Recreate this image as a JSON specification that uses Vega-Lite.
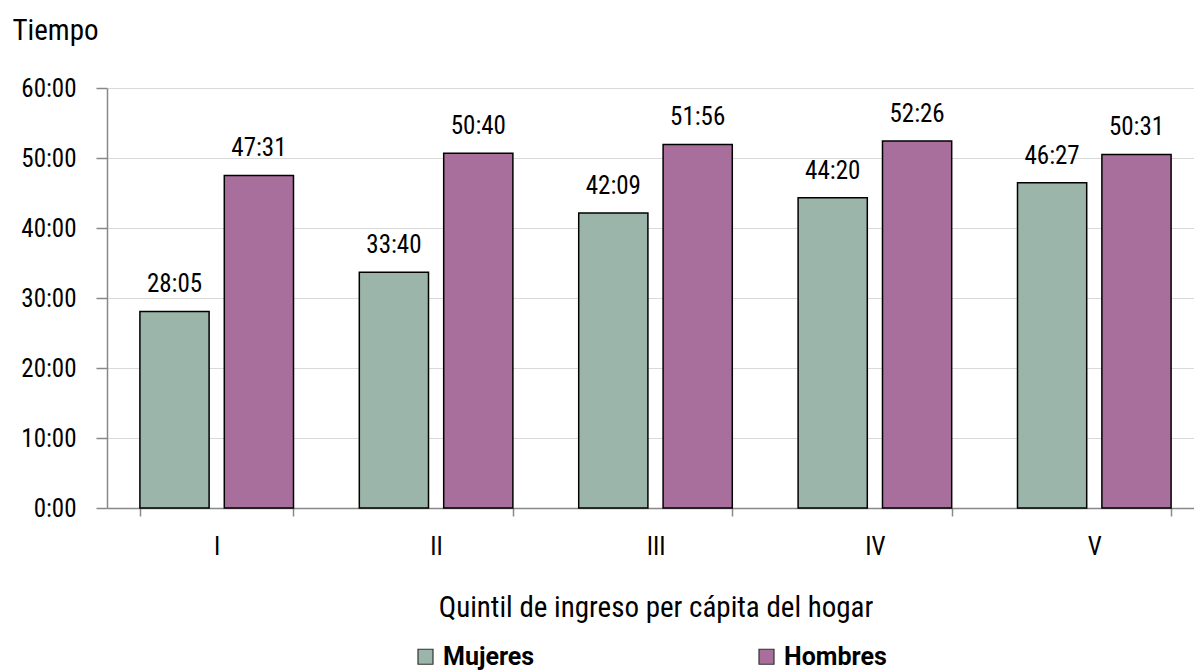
{
  "$schema": "https://vega.github.io/schema/vega-lite/v6.json",
  "width": 1097,
  "height": 420,
  "autosize": {"type": "none"},
  "padding": {"left": 107, "top": 88, "right": -10, "bottom": 163},
  "config": {
    "font": "Roboto Condensed",
    "view": {"stroke": null},
    "text": {"font": "Roboto Condensed"}
  },
  "data": {
    "values": [
      {"quintil": "I", "sexo": "Mujeres", "valor": 28.083, "etiqueta": "28:05"},
      {"quintil": "I", "sexo": "Hombres", "valor": 47.517, "etiqueta": "47:31"},
      {"quintil": "II", "sexo": "Mujeres", "valor": 33.667, "etiqueta": "33:40"},
      {"quintil": "II", "sexo": "Hombres", "valor": 50.667, "etiqueta": "50:40"},
      {"quintil": "III", "sexo": "Mujeres", "valor": 42.15, "etiqueta": "42:09"},
      {"quintil": "III", "sexo": "Hombres", "valor": 51.933, "etiqueta": "51:56"},
      {"quintil": "IV", "sexo": "Mujeres", "valor": 44.333, "etiqueta": "44:20"},
      {"quintil": "IV", "sexo": "Hombres", "valor": 52.433, "etiqueta": "52:26"},
      {"quintil": "V", "sexo": "Mujeres", "valor": 46.45, "etiqueta": "46:27"},
      {"quintil": "V", "sexo": "Hombres", "valor": 50.517, "etiqueta": "50:31"}
    ]
  },
  "encoding": {
    "x": {
      "field": "quintil",
      "type": "nominal",
      "sort": ["I", "II", "III", "IV", "V"],
      "scale": {"paddingInner": 0.3, "paddingOuter": 0.15},
      "axis": {
        "title": "Quintil de ingreso per cápita del hogar",
        "titleFontSize": 29,
        "titleFontWeight": "normal",
        "titleColor": "#000",
        "titlePadding": 34,
        "labelAngle": 0,
        "labelFontSize": 25,
        "labelColor": "#000",
        "labelPadding": 18,
        "tickBand": "extent",
        "tickSize": 8,
        "tickColor": "#888",
        "domainColor": "#888",
        "domainWidth": 1.5,
        "tickWidth": 1.5,
        "grid": false
      }
    },
    "xOffset": {
      "field": "sexo",
      "sort": ["Mujeres", "Hombres"],
      "scale": {"paddingInner": 0.18}
    },
    "y": {
      "field": "valor",
      "type": "quantitative",
      "scale": {"domain": [0, 60], "nice": false},
      "axis": {
        "values": [0, 10, 20, 30, 40, 50, 60],
        "labelExpr": "datum.value + ':00'",
        "labelFontSize": 25,
        "labelColor": "#000",
        "labelPadding": 20,
        "tickSize": 11,
        "tickColor": "#888",
        "domainColor": "#888",
        "domainWidth": 1.5,
        "tickWidth": 1.5,
        "gridColor": "#d9d9d9",
        "gridWidth": 1,
        "title": "Tiempo",
        "titleAngle": 0,
        "titleAlign": "left",
        "titleBaseline": "middle",
        "titleX": -95,
        "titleY": -58,
        "titleFontSize": 29,
        "titleFontWeight": "normal",
        "titleColor": "#000"
      }
    }
  },
  "layer": [
    {
      "mark": {"type": "bar", "stroke": "#000", "strokeWidth": 1.5},
      "encoding": {
        "color": {
          "field": "sexo",
          "type": "nominal",
          "sort": ["Mujeres", "Hombres"],
          "scale": {"domain": ["Mujeres", "Hombres"], "range": ["#9bb5aa", "#a96f9c"]},
          "legend": {
            "title": null,
            "orient": "none",
            "legendX": 306,
            "legendY": 556,
            "direction": "horizontal",
            "columns": 2,
            "columnPadding": 219,
            "symbolType": "square",
            "symbolSize": 225,
            "symbolStrokeColor": "#333",
            "symbolStrokeWidth": 1.2,
            "labelFont": "Roboto",
            "labelFontSize": 25,
            "labelFontWeight": "bold",
            "labelColor": "#000",
            "labelOffset": 5
          }
        }
      }
    },
    {
      "mark": {"type": "text", "baseline": "bottom", "dy": -14, "fontSize": 25, "color": "#000"},
      "encoding": {"text": {"field": "etiqueta"}}
    }
  ]
}
